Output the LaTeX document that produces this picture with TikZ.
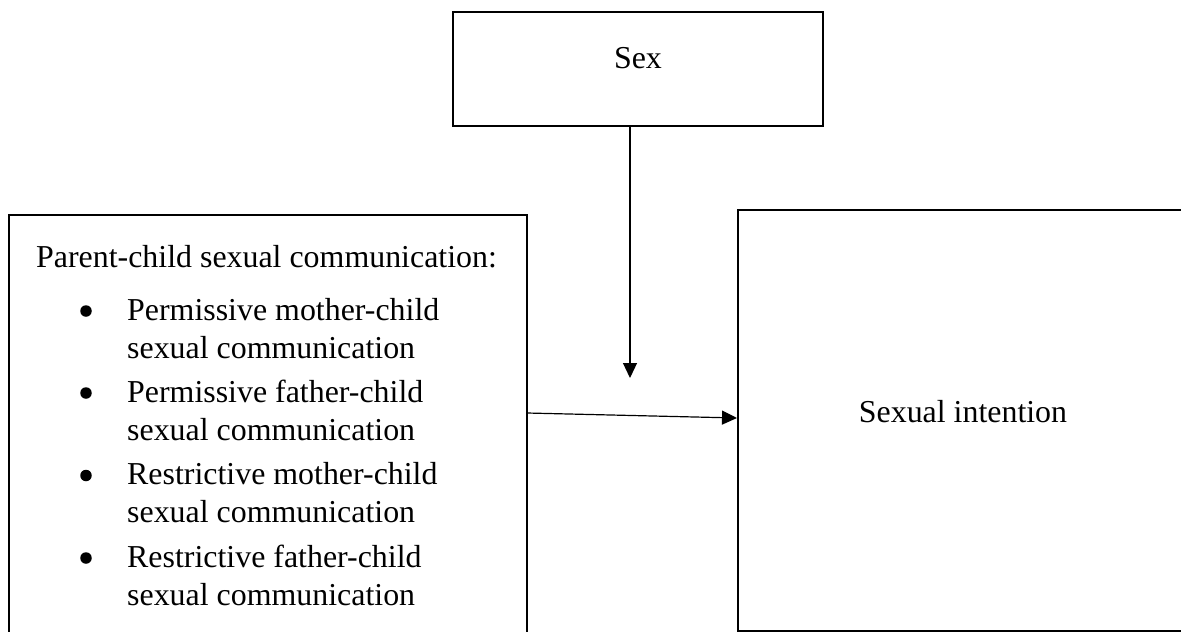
\documentclass[tikz,border=0pt]{standalone}
\usepackage{fontspec}
\setmainfont{Liberation Serif}
\usetikzlibrary{arrows.meta}
\begin{document}
\begin{tikzpicture}[x=1pt,y=-1pt,
  boxframe/.style={draw=black,line width=2.6pt,inner sep=0pt},
  txt/.style={inner sep=0pt,font=\fontsize{31.9}{37}\selectfont},
  dot/.style={circle,fill=black,inner sep=0pt,minimum size=11.5pt},
  conn/.style={draw=black,line width=1.2pt,-{Triangle[length=15pt,width=14pt]}}]
\useasboundingbox (0,0) rectangle (1181,632);
% boxes
\node[boxframe,minimum width=370pt,minimum height=114pt] (sex) at (638,69) {};
\node[boxframe,minimum width=518pt,minimum height=435pt] (pcsc) at (268,432.5) {};
\node[boxframe,minimum width=452pt,minimum height=421pt] (intent) at (964,420.5) {};
% texts
\node[txt,anchor=base] (sexlab) at (638,68) {Sex};
\node[txt,anchor=base] (intlab) at (963,422) {Sexual intention};
\node[txt,anchor=base west] (head) at (36,267) {Parent-child sexual communication:};
\foreach \i/\y/\a in {1/320/Permissive mother-child,2/402/Permissive father-child,3/484.5/Restrictive mother-child,4/567/Restrictive father-child}{
  \node[dot] (b\i) at (86,\y-9) {};
  \node[txt,anchor=base west] (l\i a) at (127,\y) {\a};
  \node[txt,anchor=base west] (l\i b) at (127,\y+38) {sexual communication};
}
% connectors
\coordinate (vstart) at (630,126);
\coordinate (vend) at (630,378);
\coordinate (hstart) at (527,413);
\coordinate (hend) at (737,418);
\draw[conn] (vstart) -- (vend);
\draw[conn] (hstart) -- (hend);
\end{tikzpicture}
\end{document}
